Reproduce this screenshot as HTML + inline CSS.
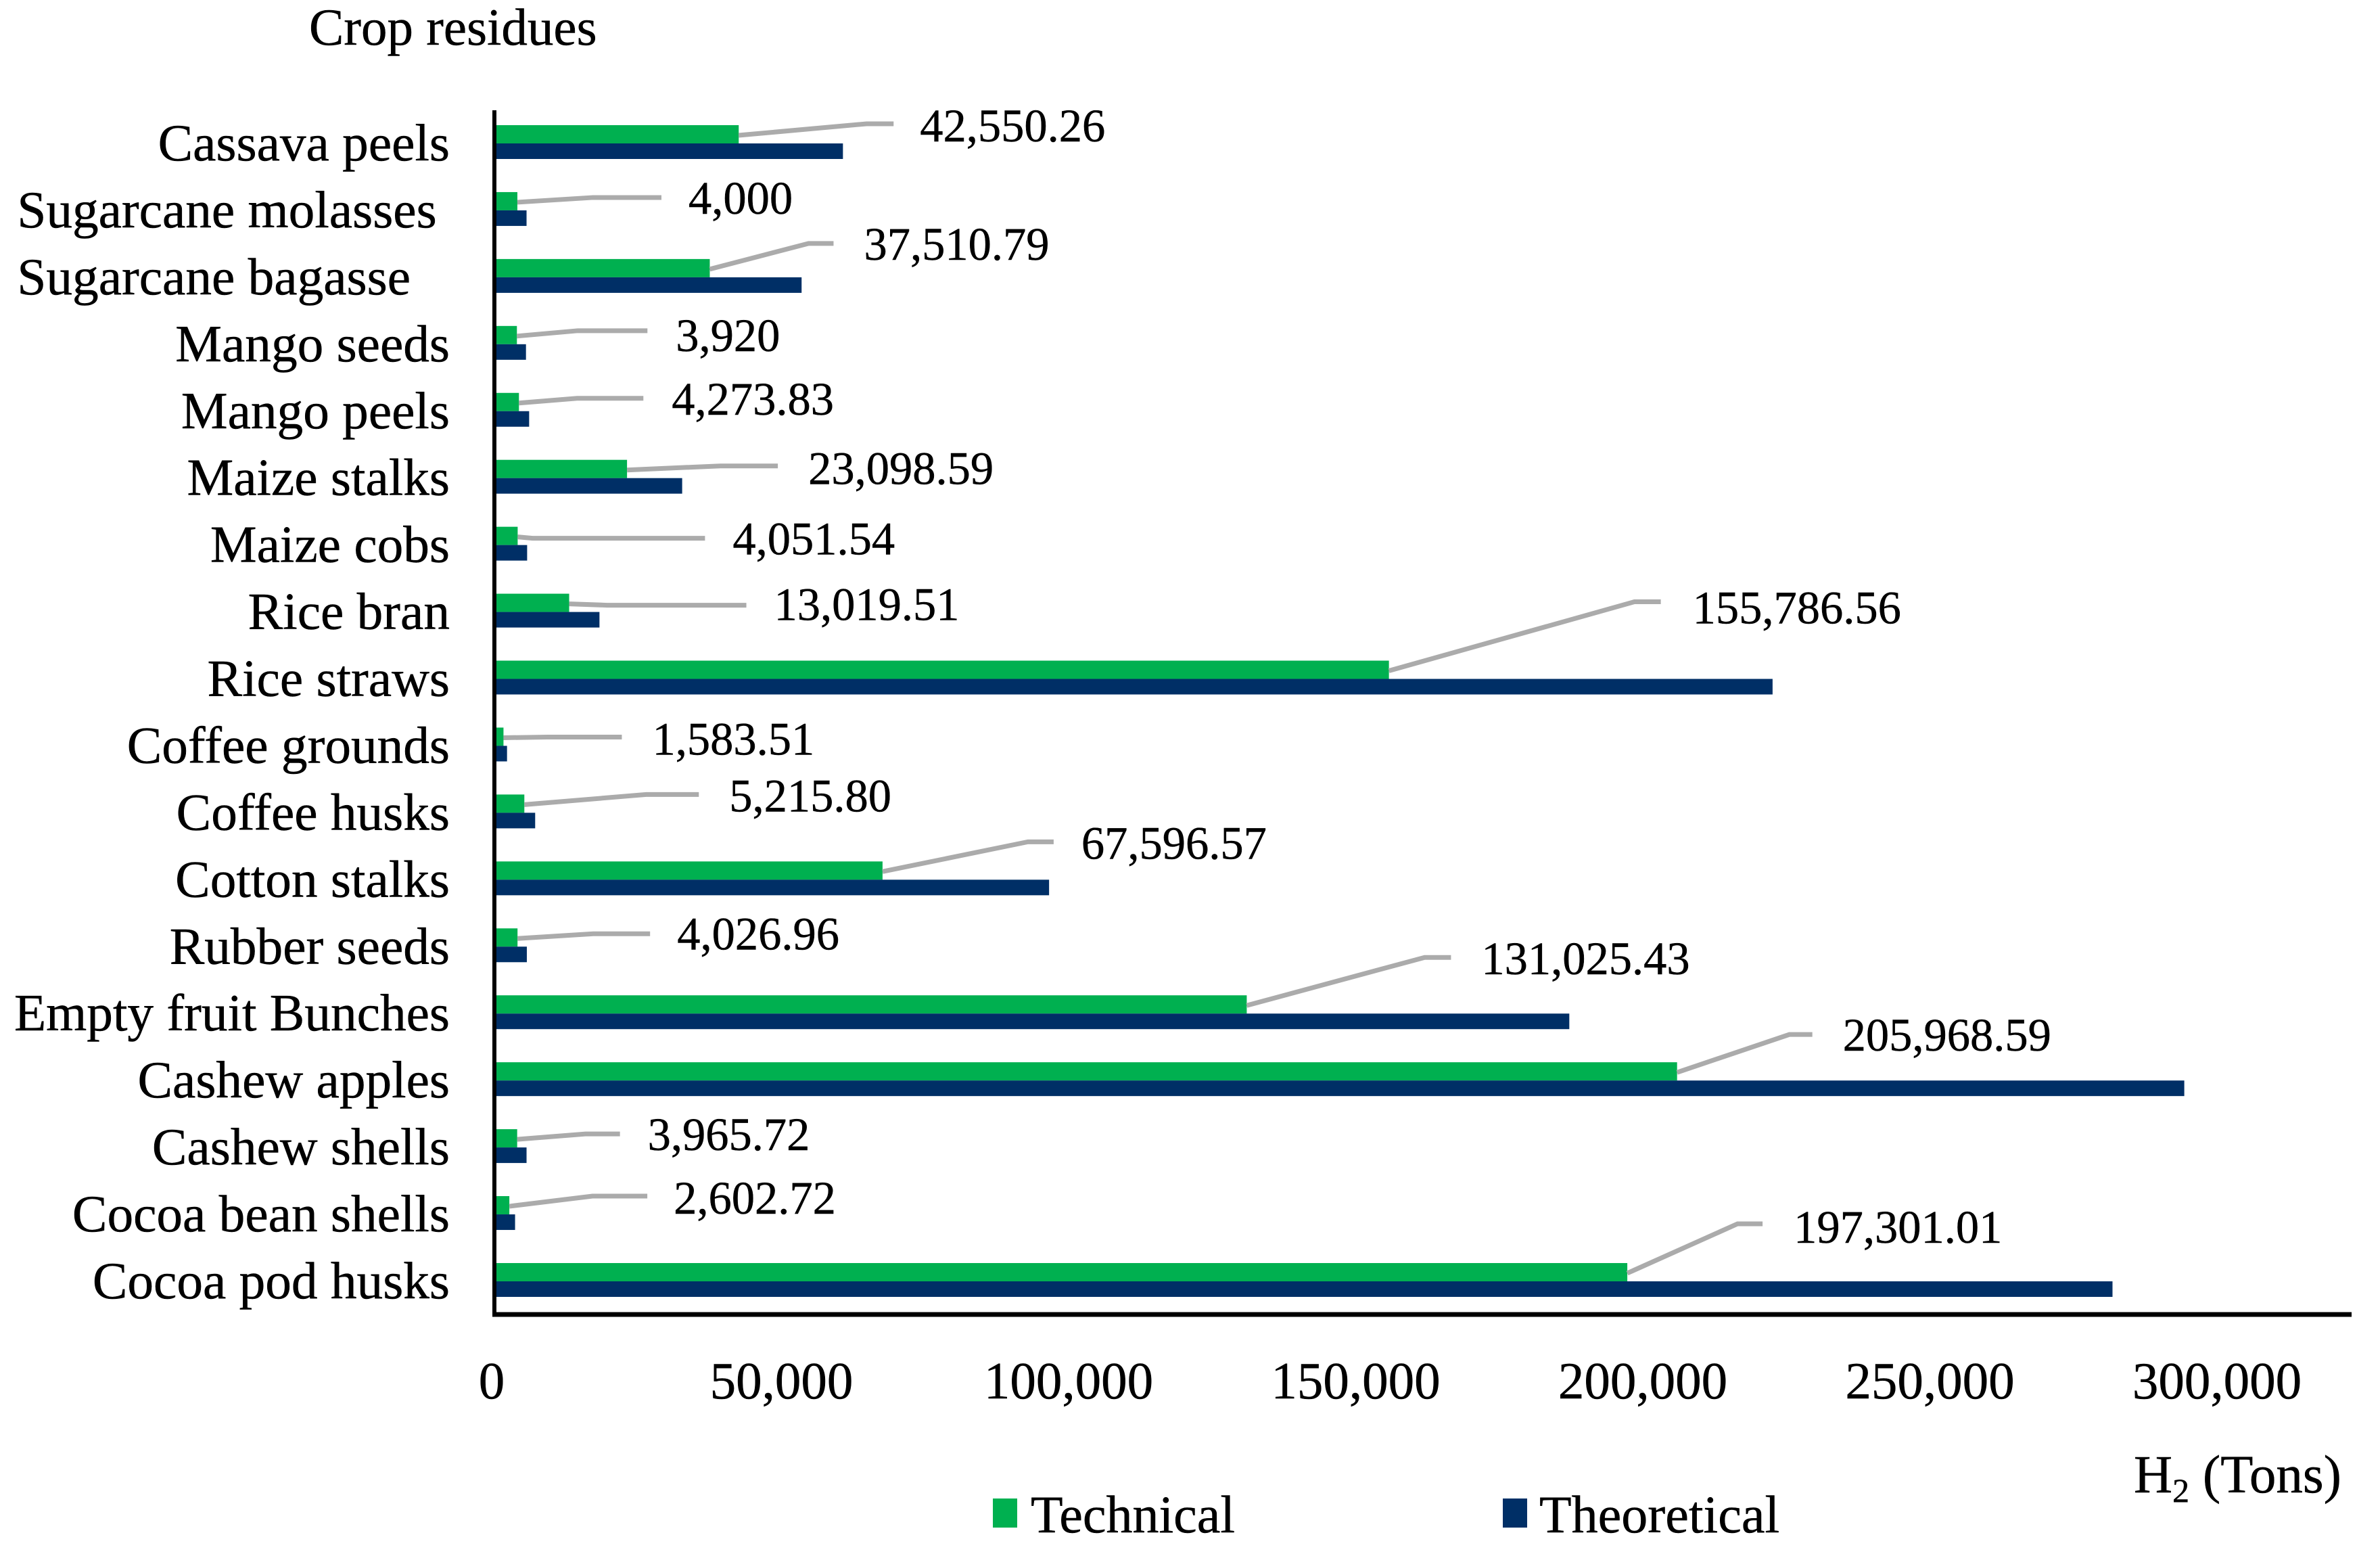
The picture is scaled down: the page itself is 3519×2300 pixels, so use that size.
<!DOCTYPE html>
<html lang="en">
<head>
<meta charset="utf-8">
<title>Crop residues H2 potential</title>
<style>
  html, body { margin: 0; padding: 0; background: #ffffff; }
  svg { display: block; }
  text { font-family: "Liberation Serif", serif; fill: #000000; stroke: #000000; stroke-width: 0.5; }
</style>
</head>
<body>
<svg id="chart" xmlns="http://www.w3.org/2000/svg" width="3519" height="2300" viewBox="0 0 3519 2300">
  <rect x="0" y="0" width="3519" height="2300" fill="#ffffff"/>
  <text x="457" y="66" font-size="77">Crop residues</text>
  <text x="3155" y="2206" font-size="79">H<tspan font-size="50" dy="14">2</tspan><tspan dy="-14"> (Tons)</tspan></text>
  <g id="bars"></g>
  <g id="leaders"></g>
  <g id="value-labels"></g>
  <g id="category-labels"></g>
  <g id="tick-labels"></g>
  <line x1="731" y1="163" x2="731" y2="1946" stroke="#000000" stroke-width="6"/>
  <line x1="728" y1="1943" x2="3477" y2="1943" stroke="#000000" stroke-width="7"/>
  <g>
    <rect x="1468" y="2215" width="36" height="43" fill="#00B050"/>
    <text x="1524" y="2265" font-size="78">Technical</text>
  </g>
  <g>
    <rect x="2222" y="2215" width="36" height="43" fill="#002F66"/>
    <text x="2276" y="2265" font-size="78">Theoretical</text>
  </g>
</svg>
<script>
const categories = ["Cassava peels", "Sugarcane molasses\u00A0", "Sugarcane bagasse\u00A0\u00A0\u00A0", "Mango seeds", "Mango peels", "Maize stalks", "Maize cobs", "Rice bran", "Rice straws", "Coffee grounds", "Coffee husks", "Cotton stalks", "Rubber seeds", "Empty fruit Bunches", "Cashew apples", "Cashew shells", "Cocoa bean shells", "Cocoa pod husks"];
const technicalValues = [42550.26, 4000, 37510.79, 3920, 4273.83, 23098.59, 4051.54, 13019.51, 155786.56, 1583.51, 5215.80, 67596.57, 4026.96, 131025.43, 205968.59, 3965.72, 2602.72, 197301.01];
const theoreticalValues = [60700, 5600, 53500, 5500, 6050, 32700, 5700, 18300, 222600, 2200, 7100, 96600, 5650, 187200, 294300, 5600, 3600, 281800];
const technicalLabels = ["42,550.26", "4,000", "37,510.79", "3,920", "4,273.83", "23,098.59", "4,051.54", "13,019.51", "155,786.56", "1,583.51", "5,215.80", "67,596.57", "4,026.96", "131,025.43", "205,968.59", "3,965.72", "2,602.72", "197,301.01"];
const tickValues = [0, 50000, 100000, 150000, 200000, 250000, 300000];
const tickLabels = ["0", "50,000", "100,000", "150,000", "200,000", "250,000", "300,000"];

(function () {
  const NS = "http://www.w3.org/2000/svg";
  const xScale = function (v) { return 731 + v * 0.00849; };
  const rowY = function (i) { return 212 + i * 98.94; };
  const make = function (tag, attrs, parent) {
    const el = document.createElementNS(NS, tag);
    Object.keys(attrs).forEach(function (k) { el.setAttribute(k, attrs[k]); });
    parent.appendChild(el);
    return el;
  };
  const slug = function (s) {
    return s.trim().toLowerCase().replace(/[^a-z0-9]+/g, "-");
  };

  // Manual callout placement relative to the bar end and the row centre:
  // elbow dx, line end dx, label dx, elbow dy, label dy
  const callouts = [
    [189, 229, 268, -29, -26], [112, 213, 253, -19, -18], [146, 183, 228, -50, -49],
    [90, 193, 235, -20, -13], [86, 184, 226, -19, -18], [138, 223, 268, -18, -14],
    [22, 277, 318, -10, -9], [56, 262, 303, -10, -11], [363, 402, 449, -114, -105],
    [65, 175, 220, -13, -10], [180, 258, 303, -27, -25], [215, 253, 294, -56, -54],
    [112, 196, 236, -19, -19], [263, 302, 347, -83, -81], [166, 200, 245, -68, -67],
    [101, 152, 193, -20, -19], [123, 204, 243, -27, -24], [163, 200, 246, -85, -80]
  ];

  const barsG = document.getElementById("bars");
  const leadersG = document.getElementById("leaders");
  const valuesG = document.getElementById("value-labels");
  const catsG = document.getElementById("category-labels");
  const ticksG = document.getElementById("tick-labels");

  categories.forEach(function (cat, i) {
    const y = rowY(i);
    const key = slug(cat);
    const xTech = xScale(technicalValues[i]);
    const xTheo = xScale(theoreticalValues[i]);

    const techBar = make("rect", { x: 731, y: y - 27, width: xTech - 731, height: 27, fill: "#00B050" }, barsG);
    
    

    const theoBar = make("rect", { x: 731, y: y, width: xTheo - 731, height: 23, fill: "#002F66" }, barsG);
    
    

    const c = callouts[i];
    const leader = make("polyline", {
      points: xTech + "," + (y - 12) + " " + (xTech + c[0]) + "," + (y + c[3]) + " " + (xTech + c[1]) + "," + (y + c[3]),
      fill: "none", stroke: "#ABABAB", "stroke-width": 7
    }, leadersG);
    
    

    const valueText = make("text", { x: xTech + c[2], y: y + c[4] + 23, "font-size": 68.5 }, valuesG);
    valueText.textContent = technicalLabels[i];
    
    

    const catText = make("text", { x: 665, y: y + 25, "font-size": 77.3, "text-anchor": "end" }, catsG);
    catText.textContent = cat;
    catText.setAttribute("xml:space", "preserve");
    
    
  });

  tickValues.forEach(function (v, i) {
    const t = make("text", { x: xScale(v) - (v === 0 ? 4 : 0), y: 2067, "font-size": 77, "text-anchor": "middle" }, ticksG);
    t.textContent = tickLabels[i];
    
    
  });
})();
</script>
</body>
</html>
